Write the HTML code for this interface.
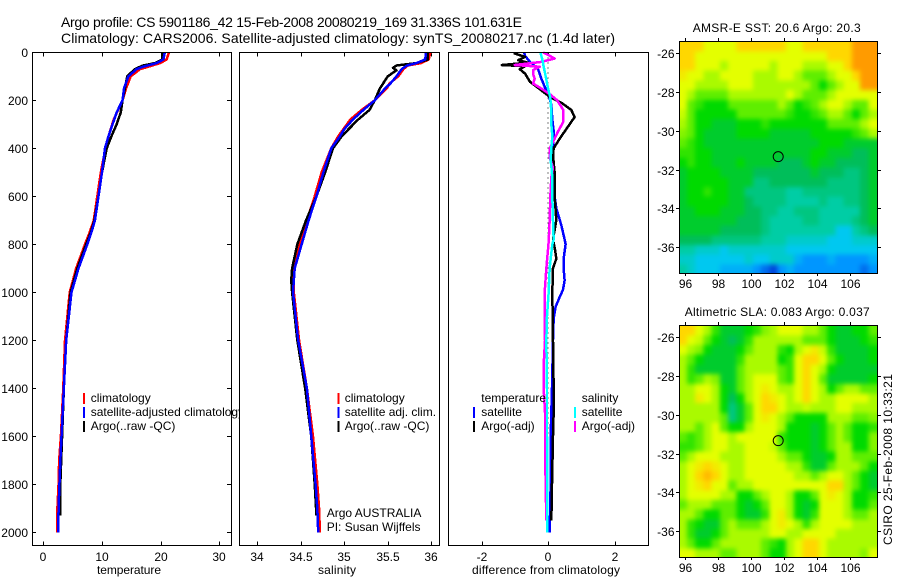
<!DOCTYPE html>
<html>
<head>
<meta charset="utf-8">
<title>Argo profile</title>
<style>
html,body{margin:0;padding:0;background:#fff;width:900px;height:580px;overflow:hidden}
svg{display:block}
text{font-family:"Liberation Sans",sans-serif;fill:#000;font-size:12px}
</style>
</head>
<body>
<svg id="fig" width="900" height="580" viewBox="0 0 900 580" xmlns="http://www.w3.org/2000/svg">
<defs>
<filter id="map-smooth" filterUnits="userSpaceOnUse" x="660" y="20" width="240" height="560" color-interpolation-filters="sRGB">
<feGaussianBlur stdDeviation="2.4"/>
<feComponentTransfer><feFuncA type="linear" slope="20" intercept="0"/></feComponentTransfer>
</filter>
</defs>
<rect x="0" y="0" width="900" height="580" fill="#fff"/>
<text x="61" y="27" font-size="14" style="font-size:14px" textLength="461" lengthAdjust="spacing">Argo profile: CS 5901186_42 15-Feb-2008 20080219_169 31.336S 101.631E</text>
<text x="61" y="43" font-size="14" style="font-size:14px" textLength="554" lengthAdjust="spacing">Climatology: CARS2006. Satellite-adjusted climatology: synTS_20080217.nc (1.4d later)</text>
<text x="692.7" y="32" textLength="168" lengthAdjust="spacing">AMSR-E SST: 20.6 Argo: 20.3</text>
<text x="684.7" y="316" textLength="185" lengthAdjust="spacing">Altimetric SLA: 0.083 Argo: 0.037</text>
<text transform="translate(892,545) rotate(-90)" textLength="171" lengthAdjust="spacing">CSIRO 25-Feb-2008 10:33:21</text>
</svg>
<script>
// ---- shared axis values ----
const depthTicks = [0,200,400,600,800,1000,1200,1400,1600,1800,2000];
const tempTicks = [0,10,20,30];
const salTicks = [34,34.5,35,35.5,36];
const salTickLabels = ['34','34.5','35','35.5','36'];
const diffTicks = [-2,0,2];
const lonTicks = [96,98,100,102,104,106];
const latTicks = [-26,-28,-30,-32,-34,-36];

// ---- temperature panel ----
const tempClimDepth = [0,30,45,60,70,100,150,200,280,350,400,500,600,700,750,800,900,1000,1200,1400,1600,1700,1800,1900,2000];
const tempClim = [21.4,21.0,19.9,17.9,16.5,14.9,14.1,13.5,12,11.1,10.6,9.8,9.2,8.6,7.9,7.1,5.6,4.5,3.7,3.4,3.0,2.7,2.6,2.4,2.4];
const tempSatDepth = [0,30,45,60,70,100,150,200,250,300,350,400,500,600,700,750,800,900,1000,1200,1400,1600,1700,1800,1900,2000];
const tempSat = [20.7,20.45,19.3,17,15.9,14.5,13.75,13.5,12.5,11.8,11.1,10.5,10,9.4,8.8,8.2,7.5,6,4.8,3.9,3.5,3.1,2.9,2.75,2.6,2.55];
const tempArgoDepth = [0,30,45,55,70,100,150,200,250,300,350,400,500,600,700,750,800,900,1000,1200,1400,1600,1800,1930];
const tempArgo = [20.3,20.3,19,17,15.6,14.3,13.9,13.5,13.2,12.5,11.6,10.8,10,9.4,8.7,8.1,7.3,5.8,4.65,3.9,3.5,3.2,2.9,2.9];

// ---- salinity panel ----
const salClimDepth = [0,30,45,55,70,100,130,150,200,240,280,320,350,400,500,600,700,800,900,1000,1200,1400,1600,1800,1900,2000];
const salClim = [35.99,35.97,35.88,35.73,35.68,35.62,35.52,35.49,35.35,35.2,35.07,34.99,34.93,34.85,34.74,34.66,34.57,34.49,34.42,34.42,34.48,34.57,34.64,34.69,34.71,34.72];
const salSatDepth = [0,30,45,55,70,100,130,150,200,240,280,320,350,400,500,600,700,800,900,1000,1200,1400,1600,1800,1900,2000];
const salSat = [35.94,35.93,35.83,35.72,35.66,35.6,35.53,35.47,35.35,35.22,35.1,35.0,34.95,34.85,34.76,34.68,34.59,34.51,34.43,34.41,34.47,34.57,34.62,34.67,34.69,34.7];
const salArgoDepth = [0,30,45,55,65,75,100,150,200,240,280,320,350,400,500,600,700,800,900,950,1000,1200,1400,1600,1800,1930];
const salArgo = [35.96,35.96,35.83,35.6,35.56,35.6,35.5,35.41,35.35,35.29,35.16,35.05,34.97,34.87,34.78,34.68,34.56,34.46,34.4,34.39,34.4,34.46,34.55,34.62,34.66,34.68];

// ---- difference panel ----
const dTempSatDepth = [0,15,40,70,110,150,180,220,280,340,400,500,600,650,720,780,800,850,900,950,990,1020,1060,1110,1200,1400,1600,1800,2000];
const dTempSat = [-0.72,-0.69,-0.54,-0.3,-0.2,-0.08,0.03,0.1,0.13,0.18,0.15,0.17,0.2,0.25,0.4,0.5,0.53,0.48,0.47,0.5,0.45,0.35,0.23,0.17,0.15,0.12,0.08,0.08,0.05];
const dTempArgoDepth = [0,5,19,33,43,53,58,70,89,123,144,165,190,210,240,270,300,330,360,400,430,500,600,700,780,830,860,900,1000,1200,1400,1500,1600,1800,1950];
const dTempArgo = [-1,-1,-0.69,-0.9,-0.6,-1.39,-0.69,-0.85,-0.69,-0.54,-0.34,-0.14,0.1,0.4,0.7,0.8,0.65,0.5,0.35,0.17,0.15,0.2,0.2,0.25,0.15,0.22,0.25,0.15,0.13,0.15,0.17,0.17,0.15,0.12,0.1];
const dSalSatDepth = [0,30,60,100,150,190,250,300,350,400,450,500,600,700,780,800,900,1000,1100,1200,1400,1600,1800,2000];
const dSalSat = [-0.23,-0.17,-0.13,-0.07,0,0.07,0.1,0.1,0.13,0.1,0.08,0.12,0.13,0.15,0.17,0.13,0.05,0.02,-0.03,-0.05,-0.03,-0.03,-0.03,-0.03];
const dSalArgoDepth = [0,7,26,40,53,60,74,89,110,130,151,175,199,240,290,330,360,400,440,480,520,600,700,790,900,1000,1100,1200,1300,1400,1500,1650,1800,1950];
const dSalArgo = [-0.15,-0.05,0.2,-0.2,-1,-0.25,-0.45,-0.45,-0.4,-0.45,-0.2,0.06,0.27,0.46,0.46,0.3,0.2,0.05,0.05,0.15,0.1,0.07,0.05,0.02,-0.05,-0.1,-0.1,-0.09,-0.13,-0.13,-0.09,-0.09,-0.07,-0.05];

// ---- map grids: colour level (0 deep blue .. 10 orange), one row per 0.5 deg of latitude from the north ----
const sstGrid = [
[9,9,9,8,8,8,8,9,9,9,9,9,9,8,8,9,9,9,9,9,9,10,10,10],
[9,9,8,8,8,8,8,8,8,8,8,8,8,8,8,8,8,8,9,9,9,10,10,10],
[9,9,8,8,8,7,8,8,8,8,8,7,8,8,8,7,7,7,8,8,9,10,10,10],
[8.5,8,8,7,7,8,8,8,8,7,7,7,8,8,7,6,6,6,7,8,8,9,10,10],
[8,8,7,7,7,7,8,8,8,7,7,7,7,7,7,7,6,5,6,7,8,8,10,10],
[8,7,6,6,6,6,7,7,7,7,7,7,7,8,7,6,6,6,7,8,8,8,8,8],
[8,6,5.5,5,5,5,6,6,6,6,6,6,7,6,5,5.5,6,7,8,8,7,6,6,8],
[7.5,6,5,5,5,5,5,6,6,6,6,6,6,5.5,5,5,5.5,6,7,7,6,5,6,7],
[7,6,5,5,4.5,4.5,4.5,5,5,5,5.5,5,5,5,5,5,5,5,6,6,6,6,7,8],
[6.5,6,5,4.5,4.5,4.5,4.5,5,5,5,5,4.5,4.5,4.5,4.5,4.5,5,5,5,5,5,5.5,6,7],
[6,5.5,5,4.5,4.5,4.5,4.5,4.5,4.5,4.5,4.5,4.5,4.5,4.5,4.5,4.5,4.5,5,5,5,4.5,4.5,4.5,4.5],
[5.5,5.5,5,5,4.5,4.5,4.5,4.5,4.5,4.5,4.5,4.5,4.5,4.5,4.5,4.5,5,5,4.5,4.5,4.5,4,4,4.5],
[5,5.5,5,5,4.5,4.5,4.5,5,4.5,4.5,4.5,4.5,4,4,4,4.5,5,4.5,4.5,4,4,4,4,4.5],
[4.5,5,5,5,5,4.5,4.5,4.5,4.5,4,4,4,4,4,4,4,4.5,4,4,4,3.5,3.5,4,4.5],
[4.5,5,5,5,5,5,4.5,4.5,4.5,3.5,3.5,4,4,4,4,4,4,4,3.5,3.5,3.5,3.5,4,4.5],
[4.5,5,5,5.5,5,5,4.5,4.5,3.5,3.5,3.5,3.5,3.5,3,3,3.5,3.5,3.5,3.5,3.5,3.5,3.5,4,4.5],
[4.5,5,5,5,5,5,4.5,4.5,4,3.5,3.5,3.5,3.5,3,3,3,3,3.5,3,3,3.5,3.5,4,4.5],
[4.5,4.5,5,5,5,4.5,4.5,4.5,4,4,3.5,3.5,3,3,3.5,3.5,3.5,3,3,3,3,3,4,4.5],
[4.5,4.5,4.5,4.5,4.5,4.5,4.5,4,4,4,3.5,3,3,3,3,3.5,3.5,3,3,3,3,3.5,4,4.5],
[4.5,4.5,4.5,4.5,4.5,4,4,4,4,4,3.5,3,3,3,3,3,3,3,3,2,2,3,3.5,4],
[4,4,4,4,3.5,3.5,3.5,3.5,3.5,3.5,3,3,3,2.5,2.5,2.5,2.5,2.5,2,2,2,2.5,2.5,2.5],
[3,3,2.5,2.5,2.5,2,2.5,2.5,2.5,2.5,2.5,2.5,2.5,2,2,2,2,2,2,2,2,2,2,2],
[2.5,2.5,2,2,2,2,2,2,2.5,2,2,2.5,2.5,2.5,1.5,1,1,1,1.5,1,1,1,1,1.5],
[3,2.5,2,2,2,1.5,1.5,1.5,1.5,1,0.5,0,1,1.5,1,1,1,1,1,1,1,1,0.5,1]
];
const slaGrid = [
[9,9,8,7,5.5,4.5,4.5,4.5,5,5.5,6.5,7,8,8,8,7,7,6,5,4.5,4.5,5,5,6],
[9,8,7.5,6,5,4.5,4,4.5,5.5,7,7,7,7,7,7,6,6,6,5,4.5,4.5,4.5,5,5.5],
[8,7,6.5,5,4.5,4.5,4.5,5,6,7,7,7,5.5,5,7,8,8.5,7.5,5.5,4.5,4.5,4.5,4.5,5],
[7,6,5,4.5,4.5,4.5,4.5,5.5,7,7,7,7,5,5.5,8,9,9,8,6,5,4.5,4.5,4.5,5],
[7,5.5,4.5,4.5,4.5,4.5,4.5,6,7,7,7,7,6,5.5,8,9,8,7,5,4.5,4.5,4.5,4.5,4.5],
[7,5.5,6,7,6.5,4.5,4.5,6,7,8,8,8,6,5.5,8,9,8,6,4.5,4.5,4.5,4.5,4.5,5],
[7,7,8,8,7,5,4.5,6,7,8,8.5,8,7,7,8,9,8,7,5,6,7,7,6,6],
[7,7,8.5,8,7,5,4,5,7,8,9,8.5,8,7,8,9,8,7,7,8,8,8,8,7],
[7,7,7,7,7,5,3.5,4.5,6,8,9,9,8,7,7,7.5,7,7,7,8,8,7,7,7],
[7,7,7,7,7,6,3.5,4.5,6,8,8.5,8,7,6,5,5,5,5,7,7,7,6,6,6.5],
[7,7,6,7,8,6,5,5,7,8,8,8,7,5,5,5,4.5,5,6,7,6,5,5,5.5],
[6,5.5,6,7,8,8,7,8,8,8,8,8,5.5,5,5,5,4.5,5,6,7,6,5,5,6.5],
[5.5,5.5,6,7,8,8,7,7,8,8,8,7.5,6,5,5,5,4.5,5,6,7,7,5,5,6.5],
[6,7,8,8,8,7,7,7,8,8,8,8,7,6,6,5,4.5,4.5,5,7,7,6,6,6],
[7,8,8.5,9,8.5,8,7,7,8,8,8,8,8,7,7,5.5,4.5,4.5,6,7,7,7,6,5],
[7,8,9,9.5,9,8,7,7,8,8,8,8,8,8,7,7,6,7,8,8,7,6,5,4.5],
[7,8,8.5,9,8,8,6,7,7,8,8,8,8,8,8,8,8,8,9,9,7,6,5,4.5],
[7,8,8,8,8,7,7,5,5,6,7,8,8,7,5,5,6,8,8.5,8,7,5,5,5.5],
[6,7,7,7,6,6,6,5,4.5,5,6,8,8,7,5,4.5,5,8,8,8,7,5,5,6],
[7,7,6,5,5,6,6,5,4.5,4.5,5.5,8,8.5,7,5,4.5,5.5,8,8,8,7,6,6,7],
[7,5.5,5,4.5,4.5,6,7,6,6,6,7,8,8.5,8,7,5.5,7,8,8,8,8,7,7,7],
[7,5.5,4.5,4.5,5,6,7,7,7,7,7,8,8,7,7,8,8,8,8,7,7,7,7,7],
[7,6,5,5,6,7,7,7,7,7,6,5.5,5,7,8,9,9,8,7,7,7,7,7,7],
[8,8,7,7,7,6,6,7,7,7,6,5,5,7,8,9,9,8,7,7,7,7,6.5,8]
];
const profileLon = 101.631;
const profileLat = -31.336;

// ---- axis functions ----
const SVGNS = 'http://www.w3.org/2000/svg';
const fig = document.getElementById('fig');
const yDepth = d => 52.3 + 0.24 * d;
const xTemp = t => 43.3 + 5.87 * t;
const xSal = s => 257.3 + 87 * (s - 34);
const xDiff = v => 548.0 + 33.25 * v;
const PANEL_TOP = 52.3, PANEL_BOTTOM = 545.3;

function make(tag, props, parent) {
  const el = document.createElementNS(SVGNS, tag);
  for (const k in props) el.setAttribute(k, props[k]);
  (parent || fig).appendChild(el);
  return el;
}
function label(parent, x, y, str, anchor) {
  const el = make('text', {x: x, y: y, 'text-anchor': anchor || 'start'}, parent);
  el.textContent = str;
  return el;
}
function tick(parent, x1, y1, x2, y2) {
  const el = make('line', {x1: x1, y1: y1, x2: x2, y2: y2, stroke: '#000', 'stroke-width': 1, 'shape-rendering': 'crispEdges'}, parent);
  
  
  return el;
}
function series(parent, depths, values, xf, color, width, name) {
  const pts = depths.map((d, i) => xf(values[i]).toFixed(2) + ',' + yDepth(d).toFixed(2)).join(' ');
  const el = make('polyline', {points: pts, fill: 'none', stroke: color, 'stroke-width': width, 'stroke-linejoin': 'round', 'shape-rendering': 'crispEdges'}, parent);
  
  
  return el;
}
function legendEntry(parent, swatchX, textX, baseline, color, str, name) {
  if (color) {
    const sw = make('rect', {x: swatchX, y: baseline - 9, width: 2, height: 11, fill: color, 'shape-rendering': 'crispEdges'}, parent);
    
    
  }
  const t = label(parent, textX, baseline, str);
  
  
}
function panel(name, x0, x1, xf, xTickVals, xTickText, xTitle, xTitleX, xTitleLen, sideTicks) {
  const g = make('g', {});
  
  
  const bg = make('rect', {x: x0, y: PANEL_TOP, width: x1 - x0, height: PANEL_BOTTOM - PANEL_TOP, fill: '#fff'}, g);
  
  
  xTickVals.forEach((v, i) => {
    const x = Math.round(xf(v)) + 0.5;
    tick(g, x, PANEL_TOP, x, PANEL_TOP + 4);
    tick(g, x, PANEL_BOTTOM - 4, x, PANEL_BOTTOM);
    const t = label(g, x - 0.5, 561, xTickText[i], 'middle');
    
    
  });
  if (sideTicks) {
    depthTicks.forEach(d => {
      const y = Math.round(yDepth(d)) + 0.5;
      tick(g, x0, y, x0 + 4, y);
      tick(g, x1 - 4, y, x1, y);
      const t = label(g, x0 - 4, y + 4.5, String(d), 'end');
      
      
    });
  }
  const xt = label(g, xTitleX, 574, xTitle, 'middle');
  xt.setAttribute('textLength', xTitleLen);
  
  
  return g;
}
function frame(parent, x0, y0, x1, y1, name) {
  const f = make('rect', {x: x0, y: y0, width: x1 - x0, height: y1 - y0, fill: 'none', stroke: '#000', 'stroke-width': 1, 'shape-rendering': 'crispEdges'}, parent);
  
  
}

// ---- temperature panel ----
const p1 = panel('temperature-panel', 32, 231, xTemp, tempTicks, tempTicks.map(String), 'temperature', 129, 64, true);
series(p1, tempClimDepth, tempClim, xTemp, '#ff0000', 2.5, 'temperature-climatology-line');
series(p1, tempArgoDepth, tempArgo, xTemp, '#000000', 2.5, 'temperature-argo-line');
series(p1, tempSatDepth, tempSat, xTemp, '#0000ff', 2.5, 'temperature-satellite-line');
frame(p1, 32.5, 52.5, 231.5, 545.5, 'temperature-panel-frame');
legendEntry(p1, 83, 90.7, 402, '#ff0000', 'climatology', 'legend-climatology');
legendEntry(p1, 83, 90.7, 416, '#0000ff', 'satellite-adjusted climatology', 'legend-satellite-adjusted');
legendEntry(p1, 83, 90.7, 430, '#000000', 'Argo(..raw -QC)', 'legend-argo-raw');

// ---- salinity panel ----
const p2 = panel('salinity-panel', 240, 439, xSal, salTicks, salTickLabels, 'salinity', 337, 38, false);
series(p2, salClimDepth, salClim, xSal, '#ff0000', 2.5, 'salinity-climatology-line');
series(p2, salArgoDepth, salArgo, xSal, '#000000', 2.5, 'salinity-argo-line');
series(p2, salSatDepth, salSat, xSal, '#0000ff', 2.5, 'salinity-satellite-line');
frame(p2, 239.5, 52.5, 439.5, 545.5, 'salinity-panel-frame');
legendEntry(p2, 337.5, 344.7, 402, '#ff0000', 'climatology', 'legend-sal-climatology');
legendEntry(p2, 337.5, 344.7, 416, '#0000ff', 'satellite adj. clim.', 'legend-sal-satellite');
legendEntry(p2, 337.5, 344.7, 430, '#000000', 'Argo(..raw -QC)', 'legend-sal-argo');
legendEntry(p2, 0, 326.7, 517, null, 'Argo AUSTRALIA', 'argo-australia-note');
legendEntry(p2, 0, 326.7, 531, null, 'PI: Susan Wijffels', 'pi-name-note');

// ---- difference panel ----
const p3 = panel('difference-panel', 448, 648, xDiff, diffTicks, diffTicks.map(String), 'difference from climatology', 546, 148, false);
const zero = make('line', {x1: xDiff(0), y1: yDepth(0), x2: xDiff(0), y2: yDepth(2000), stroke: '#000', 'stroke-width': 1, 'stroke-dasharray': '1 4', 'shape-rendering': 'crispEdges'}, p3);


series(p3, dTempSatDepth, dTempSat, xDiff, '#0000ff', 2.5, 'difference-temperature-satellite-line');
series(p3, dTempArgoDepth, dTempArgo, xDiff, '#000000', 2.5, 'difference-temperature-argo-line');
series(p3, dSalArgoDepth, dSalArgo, xDiff, '#ff00ff', 2.5, 'difference-salinity-argo-line');
series(p3, dSalSatDepth, dSalSat, xDiff, '#00ffff', 2.5, 'difference-salinity-satellite-line');
frame(p3, 448.5, 52.5, 648.5, 545.5, 'difference-panel-frame');
legendEntry(p3, 0, 481.3, 402, null, 'temperature', 'legend-temperature-heading');
legendEntry(p3, 473, 481.3, 416, '#0000ff', 'satellite', 'legend-temperature-satellite');
legendEntry(p3, 473, 481.3, 430, '#000000', 'Argo(-adj)', 'legend-temperature-argo');
legendEntry(p3, 0, 581.7, 402, null, 'salinity', 'legend-salinity-heading');
legendEntry(p3, 574, 581.7, 416, '#00ffff', 'satellite', 'legend-salinity-satellite');
legendEntry(p3, 574, 581.7, 430, '#ff00ff', 'Argo(-adj)', 'legend-salinity-argo');

// ---- maps ----
const levelColors = [[0,70,220],[0,150,255],[0,200,240],[0,205,165],[0,190,90],[0,218,0],[95,238,0],[170,250,0],[228,255,0],[255,215,0],[255,155,0]];
function levelColor(v) {
  const lo = Math.max(0, Math.min(levelColors.length - 1, Math.floor(v)));
  const hi = Math.min(levelColors.length - 1, lo + 1);
  const f = v - lo;
  const c = levelColors[lo].map((a, i) => Math.round(a + (levelColors[hi][i] - a) * f));
  return 'rgb(' + c.join(',') + ')';
}
function map(name, grid, lat26y, top, bottom, labelBase) {
  const g = make('g', {});
  
  
  const xLon = lon => 685.3 + 16.5 * (lon - 96);
  const yLat = lat => lat26y + 19.37 * (-26 - lat);
  const west = 95.6, north = -25.4;
  const clip = make('clipPath', {id: name + '-clip'}, g);
  make('rect', {x: 679.5, y: top + 0.5, width: 198, height: bottom - top}, clip);
  const clipped = make('g', {'clip-path': 'url(#' + name + '-clip)'}, g);
  
  
  const cells = make('g', {filter: 'url(#map-smooth)'}, clipped);
  
  
  grid.forEach((row, r) => {
    row.forEach((v, c) => {
      const x0 = xLon(west + c * 0.5), x1 = xLon(west + (c + 1) * 0.5);
      const y0 = yLat(north - r * 0.5), y1 = yLat(north - (r + 1) * 0.5);
      const cell = make('rect', {x: x0, y: y0, width: x1 - x0, height: y1 - y0, fill: levelColor(v), 'shape-rendering': 'crispEdges'}, cells);
      
      
    });
  });
  frame(g, 679.5, top + 0.5, 877.5, bottom + 0.5, name + '-frame');
  lonTicks.forEach(lon => {
    const x = Math.round(xLon(lon)) + 0.5;
    tick(g, x, top - 3, x, top);
    tick(g, x, bottom, x, bottom + 3);
    const t = label(g, x, labelBase, String(lon), 'middle');
    
    
  });
  latTicks.forEach(lat => {
    const y = Math.round(yLat(lat)) + 0.5;
    tick(g, 676, y, 679, y);
    tick(g, 878, y, 881, y);
    const t = label(g, 674.5, y + 4.5, String(lat), 'end');
    
    
  });
  const marker = make('circle', {cx: xLon(profileLon), cy: yLat(profileLat), r: 5, fill: 'none', stroke: '#000', 'stroke-width': 1}, g);
  
  
}
map('sst-map', sstGrid, 53.3, 41, 273, 288);
map('sla-map', slaGrid, 337.3, 325, 557, 572);
</script>
</body>
</html>
